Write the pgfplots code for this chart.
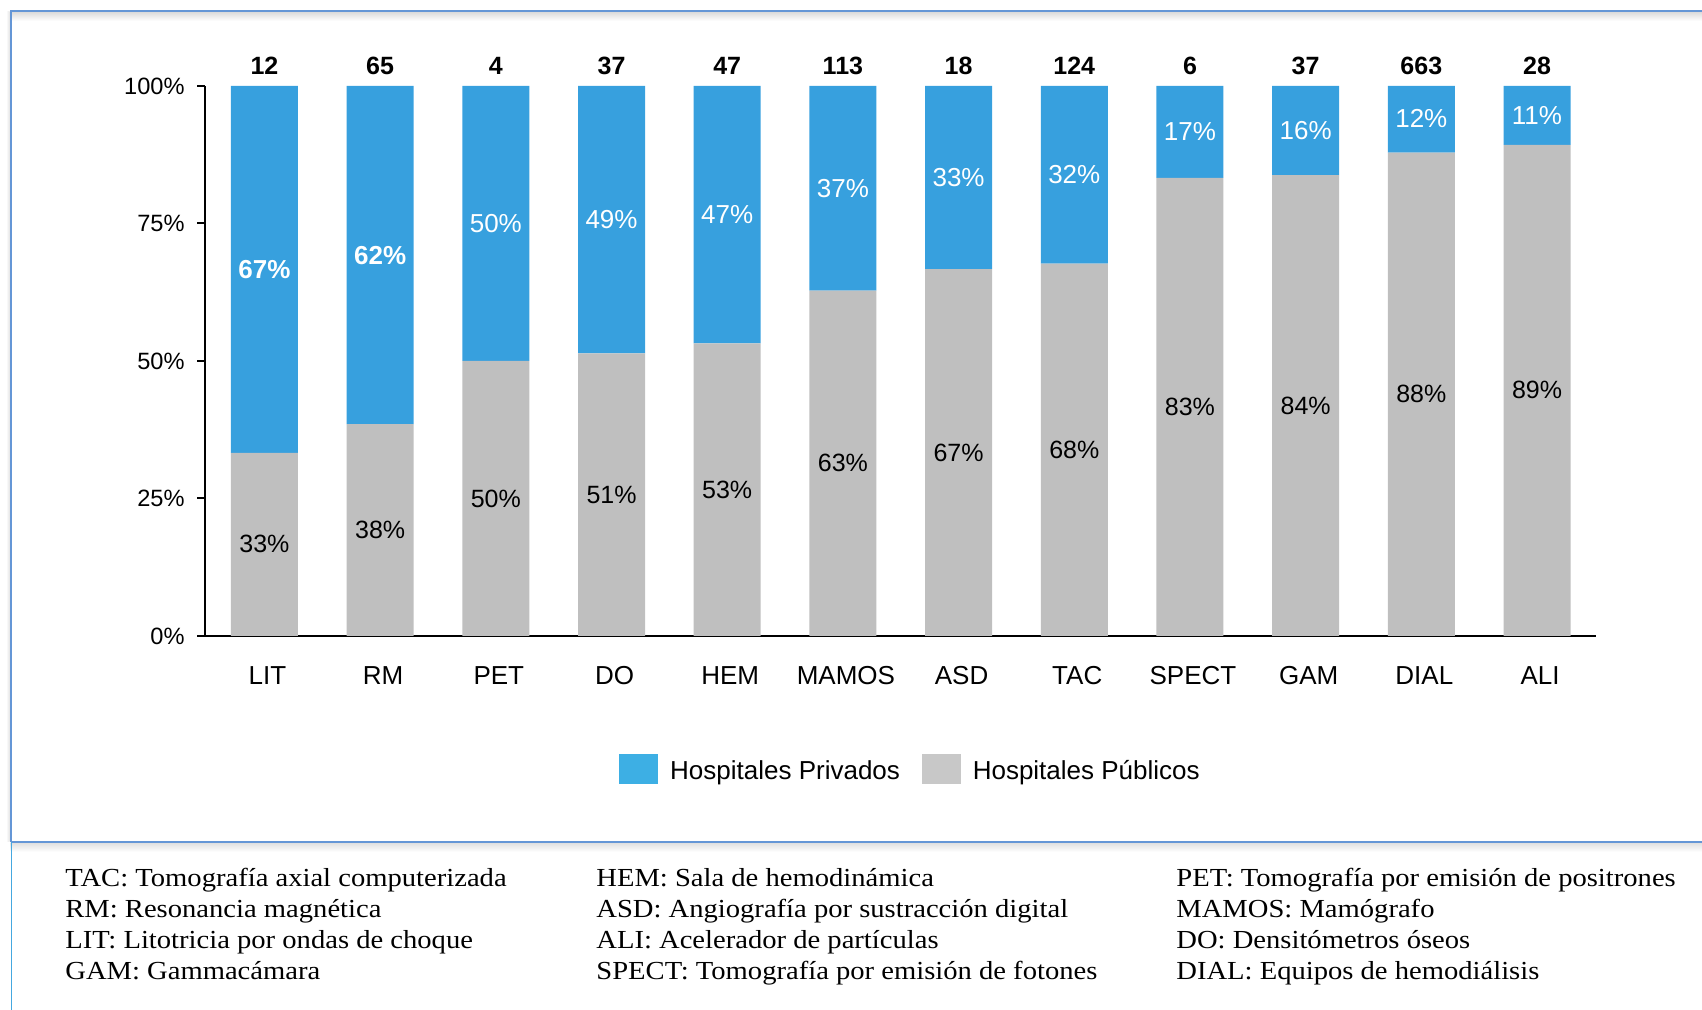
\documentclass[border=0pt]{standalone}
\usepackage{pgfplots}
\pgfplotsset{compat=1.18}
\usepackage{pgfplotstable}
\usepackage{fontspec}
\setmainfont{Liberation Sans}
\newfontfamily\notefont[FakeStretch=1.1]{Liberation Serif}
\definecolor{priv}{HTML}{37A0DE}
\definecolor{pub}{HTML}{BFBFBF}
\definecolor{legpriv}{HTML}{3DAFE4}
\definecolor{legpub}{HTML}{C8C8C8}
\definecolor{frameblue}{HTML}{6496D6}
\definecolor{leftblue}{HTML}{45A8E0}

\pgfplotstableread{
x pub priv
0 33.3 66.7
1 38.5 61.5
2 50.0 50.0
3 51.4 48.6
4 53.2 46.8
5 62.8 37.2
6 66.7 33.3
7 67.7 32.3
8 83.3 16.7
9 83.8 16.2
10 87.9 12.1
11 89.3 10.7
}\shares

\pgfplotsset{base/.style={
  scale only axis, width=695.5pt, height=275pt,
  at={(102.5pt,187pt)}, anchor=south west,
  xmin=-0.514, xmax=11.51, ymin=0, ymax=100,
}}

\begin{document}
\begin{tikzpicture}
\path[use as bounding box] (0pt,0pt) rectangle (851pt,505pt);
% frame shadows
\shade[top color=black!14, bottom color=white] (5.25pt,494.5pt) rectangle (851pt,499pt);
\shade[top color=black!12, bottom color=white] (5.25pt,79pt) rectangle (851pt,83.5pt);
\shade[left color=white, right color=black!10] (3pt,84pt) rectangle (4.75pt,499pt);

\begin{axis}[base,
  ybar stacked, bar width=33.5pt,
  axis lines=left, axis line style={-, black, line width=1pt},
  ytick={0,25,50,75,100},
  yticklabels={0\%,25\%,50\%,75\%,100\%},
  yticklabel style={font=\fontsize{11.8}{12}\selectfont, anchor=east, inner sep=0pt, xshift=-6pt},
  ytick style={black, line width=1pt}, tick align=outside, major tick length=4pt,
  xtick={0,...,11},
  xticklabels={LIT,RM,PET,DO,HEM,MAMOS,ASD,TAC,SPECT,GAM,DIAL,ALI},
  xticklabel style={font=\fontsize{13}{13}\selectfont, anchor=base, yshift=-20.2pt, xshift=1.5pt},
  xtick style={draw=none},
  legend columns=2,
  legend style={draw=none, fill=none, at={(0.5065,-0.242)}, anchor=center,
    font=\fontsize{13}{13}\selectfont,
    nodes={inner sep=0pt},
    /tikz/every odd column/.append style={column sep=6pt},
    /tikz/every even column/.append style={column sep=11pt}},
]
\addplot[fill=pub, draw=none, forget plot] table[x=x, y=pub] {\shares};
\addplot[fill=priv, draw=none, forget plot] table[x=x, y=priv] {\shares};
\addlegendimage{legend image code/.code={\fill[legpriv] (0pt,-6.05pt) rectangle (19pt,8.45pt);}}
\addlegendentry{Hospitales Privados}
\addlegendimage{legend image code/.code={\fill[legpub] (0pt,-6.05pt) rectangle (19pt,8.45pt);}}
\addlegendentry{Hospitales Públicos}
\end{axis}

\begin{axis}[base, hide axis, clip=false]
% blue segment labels (bold)
\addplot[only marks, mark=none, point meta=explicit symbolic,
  nodes near coords={\pgfplotspointmeta\%},
  nodes near coords style={anchor=center, text=white, font=\bfseries\fontsize{13}{13}\selectfont}]
  table[meta=l] {
x y l
0 66.7 67
1 69.2 62
};
% blue segment labels
\addplot[only marks, mark=none, point meta=explicit symbolic,
  nodes near coords={\pgfplotspointmeta\%},
  nodes near coords style={anchor=center, text=white, font=\fontsize{13}{13}\selectfont}]
  table[meta=l] {
x y l
2 75.0 50
3 75.7 49
4 76.6 47
5 81.4 37
6 83.3 33
7 83.9 32
8 91.7 17
9 91.9 16
10 94.0 12
11 94.7 11
};
% gray segment labels
\addplot[only marks, mark=none, point meta=explicit symbolic,
  nodes near coords={\pgfplotspointmeta\%},
  nodes near coords style={anchor=center, text=black, font=\fontsize{12.5}{13}\selectfont}]
  table[meta=l] {
x y l
0 16.7 33
1 19.3 38
2 25.0 50
3 25.7 51
4 26.6 53
5 31.4 63
6 33.3 67
7 33.9 68
8 41.7 83
9 41.9 84
10 44.0 88
11 44.7 89
};
% totals
\addplot[only marks, mark=none, point meta=explicit symbolic,
  nodes near coords={\pgfplotspointmeta},
  nodes near coords style={anchor=base, yshift=5.5pt, text=black, font=\bfseries\fontsize{12.5}{13}\selectfont}]
  table[meta=n] {
x y n
0 100 12
1 100 65
2 100 4
3 100 37
4 100 47
5 100 113
6 100 18
7 100 124
8 100 6
9 100 37
10 100 663
11 100 28
};
\end{axis}

% frame lines
\draw[frameblue, line width=1pt] (5.25pt,84pt) -- (5.25pt,499.5pt) -- (851pt,499.5pt);
\draw[frameblue, line width=1pt] (5.25pt,84pt) -- (851pt,84pt);
\draw[leftblue, line width=0.5pt] (5.5pt,84pt) -- (5.5pt,0pt);

% footnotes
\begin{scope}[every node/.style={anchor=base west, inner sep=0pt, font=\notefont\fontsize{13}{13}\selectfont}]
\node at (32.5pt,61.5pt) {TAC: Tomografía axial computerizada};
\node at (32.5pt,46pt) {RM: Resonancia magnética};
\node at (32.5pt,30.5pt) {LIT: Litotricia por ondas de choque};
\node at (32.5pt,15pt) {GAM: Gammacámara};
\node at (298pt,61.5pt) {HEM: Sala de hemodinámica};
\node at (298pt,46pt) {ASD: Angiografía por sustracción digital};
\node at (298pt,30.5pt) {ALI: Acelerador de partículas};
\node at (298pt,15pt) {SPECT: Tomografía por emisión de fotones};
\node at (588pt,61.5pt) {PET: Tomografía por emisión de positrones};
\node at (588pt,46pt) {MAMOS: Mamógrafo};
\node at (588pt,30.5pt) {DO: Densitómetros óseos};
\node at (588pt,15pt) {DIAL: Equipos de hemodiálisis};
\end{scope}
\end{tikzpicture}
\end{document}
